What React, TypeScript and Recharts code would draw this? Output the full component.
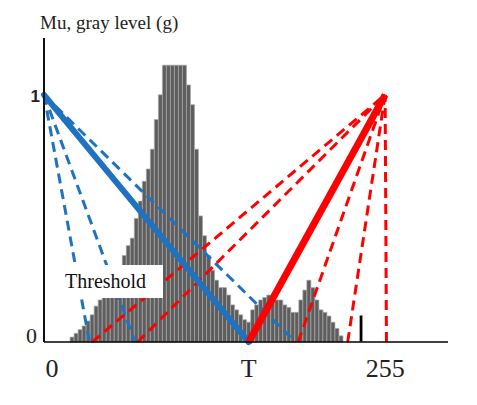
import React from 'react'
import {
  ComposedChart,
  Bar,
  Cell,
  Line,
  XAxis,
  YAxis,
  ReferenceLine,
} from 'recharts'

// gray-level histogram, scaled to the Mu axis (bin centre g, height)
const histG = [
  21, 24, 27, 30, 33, 36, 39, 42, 45, 48, 51, 54, 57, 60, 63, 66, 69, 72, 75, 78,
  81, 84, 87, 90, 93, 96, 99, 102, 105, 108, 111, 114, 117, 120, 123, 126, 129, 132, 135, 138,
  141, 144, 147, 150, 153, 156, 159, 162, 165, 168, 171, 174, 177, 180, 183, 186, 189, 192, 195, 198,
  201, 204, 207, 210, 213, 216, 219, 222, 237,
]
const histH = [
  0.02, 0.035, 0.05, 0.065, 0.085, 0.11, 0.145, 0.17, 0.18, 0.2, 0.21, 0.22, 0.24, 0.35, 0.39, 0.42, 0.5, 0.57, 0.65, 0.7,
  0.78, 0.9, 1.0, 1.12, 1.12, 1.12, 1.12, 1.12, 1.12, 1.04, 0.96, 0.78, 0.51, 0.43, 0.35, 0.29, 0.25, 0.22, 0.22, 0.19,
  0.15, 0.13, 0.11, 0.09, 0.08, 0.13, 0.15, 0.17, 0.18, 0.19, 0.18, 0.17, 0.17, 0.15, 0.14, 0.12, 0.12, 0.17, 0.21, 0.25,
  0.22, 0.17, 0.13, 0.12, 0.105, 0.08, 0.055, 0.025, 0.11,
]
const outlierG = 237

const T = 153
const blueDashedEnds = [34, 68, 188]
const redDashedEnds = [36, 70, 190, 227, 256]

const xTicks = [0, T, 255]
const xTickLabels = ['0', 'T', '255']
const yTicks = [0, 1]

const histData = histG.map((g, i) => ({ g, h: histH[i] }))
const blueLine = (t: number) => [{ g: 0, v: 1 }, { g: t, v: 0 }]
const redLine = (t: number) => [{ g: t, v: 0 }, { g: 255, v: 1 }]

const BLUE = '#1f72c0'
const RED = '#ff0000'
const SERIF = '"Liberation Serif", "Times New Roman", serif'

const XTick = (props: any) => {
  const { x, payload } = props
  const i = xTicks.indexOf(payload.value)
  return (
    <text
      x={x + (payload.value === 0 ? 8 : 0)}
      y={369}
      textAnchor="middle"
      fontFamily={SERIF}
      fontSize={26}
      fill="#222"
    >
      {xTickLabels[i]}
    </text>
  )
}

const YTick = (props: any) => {
  const { y, payload } = props
  if (payload.value === 1) {
    return (
      <text x={32} y={y + 7} textAnchor="end" fontFamily='"Liberation Sans", Arial, sans-serif' fontWeight="bold" fontSize={17} fill="#222">
        1
      </text>
    )
  }
  return (
    <text x={29} y={y + 1} textAnchor="end" fontFamily={SERIF} fontSize={22} fill="#222">
      0
    </text>
  )
}

export default function App() {
  return (
    <div style={{ position: 'relative', width: 461, height: 380 }}>
      <ComposedChart
        width={461}
        height={380}
        data={histData}
        margin={{ top: 30, right: 21, left: 0, bottom: 6 }}
      >
        <XAxis xAxisId="hist" type="number" dataKey="g" domain={[0, 302]} height={0} hide />
        <XAxis
          xAxisId="main"
          type="number"
          dataKey="g"
          domain={[0, 302]}
          ticks={xTicks}
          tick={XTick}
          tickLine={false}
          axisLine={{ stroke: '#000', strokeWidth: 1.5 }}
          height={40}
        />
        <YAxis
          type="number"
          domain={[0, 1.23]}
          ticks={yTicks}
          tick={YTick}
          tickLine={false}
          axisLine={{ stroke: '#000', strokeWidth: 1.5 }}
          width={36}
        />
        <Bar
          xAxisId="hist"
          dataKey="h"
          barSize={4}
          stroke="#a8a8a8"
          strokeWidth={0.7}
          isAnimationActive={false}
        >
          {histData.map((d) => (
            <Cell
              key={d.g}
              fill={d.g === outlierG ? '#000' : '#5e5e5e'}
              stroke={d.g === outlierG ? '#fff' : '#a8a8a8'}
              strokeWidth={d.g === outlierG ? 1.2 : 0.7}
            />
          ))}
        </Bar>
        <ReferenceLine xAxisId="main" x={0} stroke="#000" strokeWidth={1.5} />
        {blueDashedEnds.map((t) => (
          <Line
            key={'b' + t}
            xAxisId="main"
            data={blueLine(t)}
            dataKey="v"
            stroke={BLUE}
            strokeWidth={3}
            strokeDasharray="10 6"
            dot={false}
            isAnimationActive={false}
          />
        ))}
        {redDashedEnds.map((t) => (
          <Line
            key={'r' + t}
            xAxisId="main"
            data={redLine(t)}
            dataKey="v"
            stroke={RED}
            strokeWidth={3}
            strokeDasharray="10 6"
            dot={false}
            isAnimationActive={false}
          />
        ))}
        <Line
          xAxisId="main"
          data={blueLine(T)}
          dataKey="v"
          stroke={BLUE}
          strokeWidth={6}
          strokeLinecap="round"
          dot={false}
          isAnimationActive={false}
        />
        <Line
          xAxisId="main"
          data={redLine(T)}
          dataKey="v"
          stroke={RED}
          strokeWidth={7}
          dot={false}
          isAnimationActive={false}
        />
      </ComposedChart>
      <div
        style={{
          position: 'absolute',
          left: 32,
          top: 5,
          fontFamily: SERIF,
          fontSize: 19,
          lineHeight: '19px',
          color: '#222',
          whiteSpace: 'nowrap',
        }}
      >
        Mu, gray level (g)
      </div>
      <div
        style={{
          position: 'absolute',
          left: 55,
          top: 257,
          width: 98,
          height: 33,
          paddingLeft: 2,
          background: '#fff',
          fontFamily: SERIF,
          fontSize: 20,
          lineHeight: '33px',
          color: '#111',
        }}
      >
        Threshold
      </div>
    </div>
  )
}
